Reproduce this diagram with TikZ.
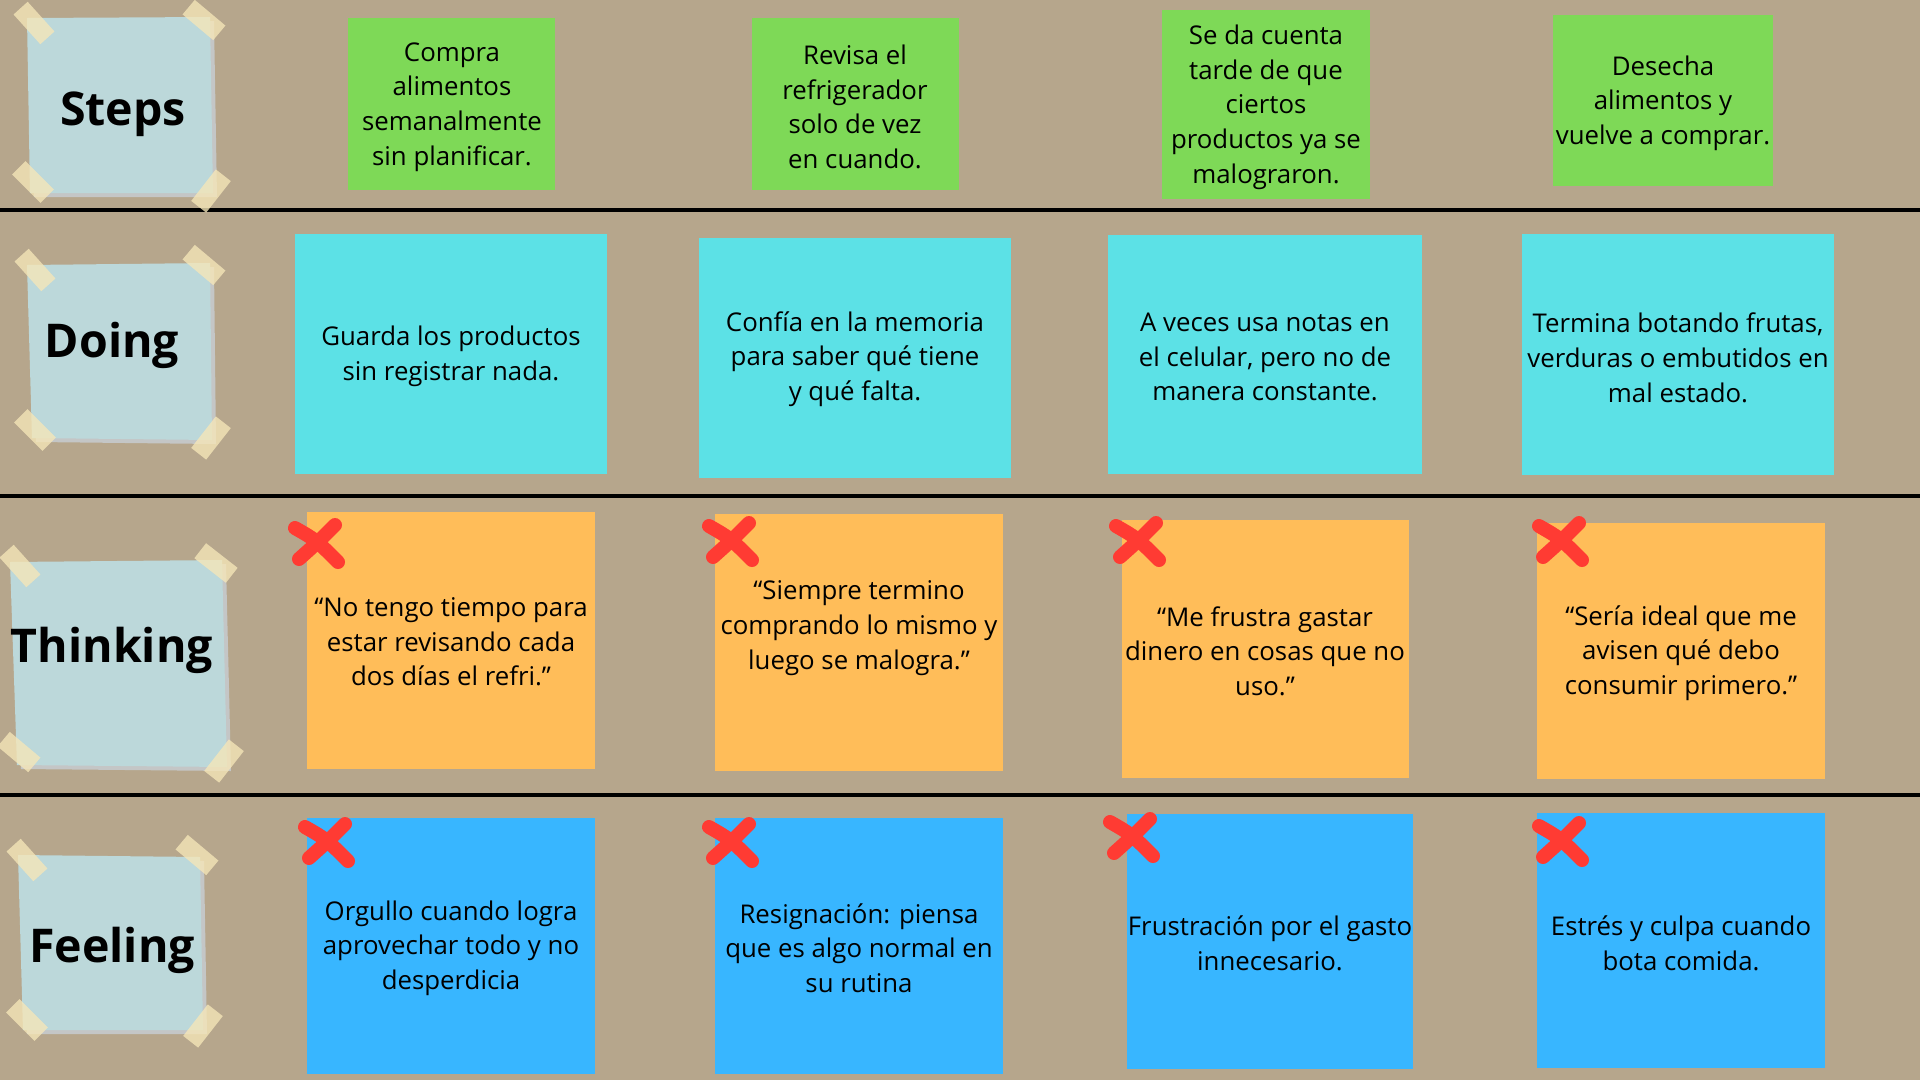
\documentclass[tikz,border=0pt]{standalone}
\usepackage{fontspec}
\setmainfont{Open Sans}
\usetikzlibrary{calc}

\definecolor{cork}{HTML}{B6A68C}
\definecolor{paper}{HTML}{BCD8DA}
\definecolor{papershade}{HTML}{C4C6C6}
\definecolor{tapecol}{HTML}{F6E7B8}
\definecolor{stepgreen}{HTML}{7ED957}
\definecolor{doingcyan}{HTML}{5CE1E6}
\definecolor{thinkorange}{HTML}{FFBD59}
\definecolor{feelblue}{HTML}{38B6FF}
\definecolor{crossred}{HTML}{FF3B33}

\tikzset{
  cardbox/.style={inner sep=0pt, outer sep=0pt, draw=none},
  cardtext/.style={inner sep=0pt, align=center, text=black, yshift=-3pt,
    font=\fontsize{25.8}{34.7}\selectfont},
  rowlabel/.style={inner sep=0pt, anchor=base, text=black,
    font=\fontsize{46.5}{50}\selectfont\bfseries},
  tape/.style={fill=tapecol, fill opacity=0.78, inner sep=0pt,
    minimum width=40pt, minimum height=19pt},
  xstroke/.style={draw=crossred, line width=14pt, line cap=round},
  divider/.style={draw=black, line width=4pt},
  redx/.pic={
    \draw[xstroke] (-21,-14) .. controls (0,-2) .. (22,20);
    \draw[xstroke] (19,-17) .. controls (2,0) .. (-17,17);
  }
}

% a coloured sticky card: name, colour, x1, y1, x2, y2, text x, text y, text
\newcommand\card[9]{%
  \node[cardbox, fill=#2, minimum width={#5pt-#3pt}, minimum height={#6pt-#4pt}]
    (#1) at ({(#3+#5)/2},{(#4+#6)/2}) {};
  \node[cardtext] (#1t) at (#7,#8) {#9};
}

% a taped paper note: corners TL, TR, BR, BL
\newcommand\paperNote[8]{%
  \fill[papershade] (#1+4,#2+4) -- (#3+4,#4+4) -- (#5+4,#6+4) -- (#7+4,#8+4) -- cycle;
  \fill[paper] (#1,#2) -- (#3,#4) -- (#5,#6) -- (#7,#8) -- cycle;
}

\begin{document}
\begin{tikzpicture}[x=1pt, y=-1pt]
  % cork board
  \fill[cork] (0,0) rectangle (1920,1080);
  \useasboundingbox (0,0) rectangle (1920,1080);

  % row dividers
  \draw[divider] (0,210) -- (1920,210);
  \draw[divider] (0,496) -- (1920,496);
  \draw[divider] (0,795) -- (1920,795);

  % ---- row labels on taped notes ----
  \paperNote{27}{18}{210}{17}{213}{193}{30}{193}
  \node[rowlabel] (lsteps) at (123,125) {Steps};
  \node[tape, rotate=-48] (tp1) at (34,23) {};
  \node[tape, rotate=-40] (tp2) at (204,20) {};
  \node[tape, rotate=-45] (tp3) at (33,182) {};
  \node[tape, rotate=52] (tp4) at (211,191) {};

  \paperNote{27}{265}{210}{263}{212}{440}{32}{438}
  \node[rowlabel] (ldoing) at (112,357) {Doing};
  \node[tape, rotate=-48] (tp5) at (35,270) {};
  \node[tape, rotate=-40] (tp6) at (204,265) {};
  \node[tape, rotate=-45] (tp7) at (35,430) {};
  \node[tape, rotate=52] (tp8) at (211,438) {};

  \paperNote{10}{562}{222}{560}{227}{767}{17}{765}
  \node[rowlabel] (lthinking) at (112,662) {Thinking};
  \node[tape, rotate=-48] (tp9) at (20,566) {};
  \node[tape, rotate=-38] (tp10) at (216,563) {};
  \node[tape, rotate=-40] (tp11) at (19,752) {};
  \node[tape, rotate=52] (tp12) at (224,761) {};

  \paperNote{18}{855}{200}{857}{203}{1030}{23}{1030}
  \node[rowlabel] (lfeeling) at (112,962) {Feeling};
  \node[tape, rotate=-48] (tp13) at (27,860) {};
  \node[tape, rotate=-40] (tp14) at (197,855) {};
  \node[tape, rotate=-45] (tp15) at (27,1020) {};
  \node[tape, rotate=52] (tp16) at (203,1026) {};

  % ---- Steps ----
  \card{s1}{stepgreen}{348}{18}{555}{190}{452}{104}{Compra\\alimentos\\semanalmente\\sin planificar.}
  \card{s2}{stepgreen}{752}{18}{959}{190}{855}{104}{Revisa el\\refrigerador\\solo de vez\\en cuando.}
  \card{s3}{stepgreen}{1162}{10}{1370}{199}{1266}{104}{Se da cuenta\\tarde de que\\ciertos\\productos ya se\\malograron.}
  \card{s4}{stepgreen}{1553}{15}{1773}{186}{1663}{100}{Desecha\\alimentos y\\vuelve a comprar.}

  % ---- Doing ----
  \card{d1}{doingcyan}{295}{234}{607}{474}{451}{353}{Guarda los productos\\sin registrar nada.}
  \card{d2}{doingcyan}{699}{238}{1011}{478}{855}{356}{Confía en la memoria\\para saber qué tiene\\y qué falta.}
  \card{d3}{doingcyan}{1108}{235}{1422}{474}{1265}{354}{A veces usa notas en\\el celular, pero no de\\manera constante.}
  \card{d4}{doingcyan}{1522}{234}{1834}{475}{1678}{355}{Termina botando frutas,\\verduras o embutidos en\\mal estado.}

  % ---- Thinking ----
  \card{t1}{thinkorange}{307}{512}{595}{769}{451}{639}{“No tengo tiempo para\\estar revisando cada\\dos días el refri.”}
  \card{t2}{thinkorange}{715}{514}{1003}{771}{859}{625}{“Siempre termino\\comprando lo mismo y\\luego se malogra.”}
  \card{t3}{thinkorange}{1122}{520}{1409}{778}{1265}{648}{“Me frustra gastar\\dinero en cosas que no\\uso.”}
  \card{t4}{thinkorange}{1537}{523}{1825}{779}{1681}{650}{“Sería ideal que me\\avisen qué debo\\consumir primero.”}

  % ---- Feeling ----
  \card{f1}{feelblue}{307}{818}{595}{1074}{451}{945}{Orgullo cuando logra\\aprovechar todo y no\\desperdicia}
  \card{f2}{feelblue}{715}{818}{1003}{1074}{859}{945}{Resignación: piensa\\que es algo normal en\\su rutina}
  \card{f3}{feelblue}{1127}{814}{1413}{1069}{1270}{940}{Frustración por el gasto\\innecesario.}
  \card{f4}{feelblue}{1537}{813}{1825}{1068}{1681}{940}{Estrés y culpa cuando\\bota comida.}

  % ---- red crosses on thinking and feeling cards ----
  \pic (xt1) at (316,542) {redx};
  \pic (xt2) at (730,540) {redx};
  \pic (xt3) at (1137,540) {redx};
  \pic (xt4) at (1560,540) {redx};
  \pic (xf1) at (326,841) {redx};
  \pic (xf2) at (730,841) {redx};
  \pic (xf3) at (1131,836) {redx};
  \pic (xf4) at (1560,840) {redx};
\end{tikzpicture}
\end{document}
